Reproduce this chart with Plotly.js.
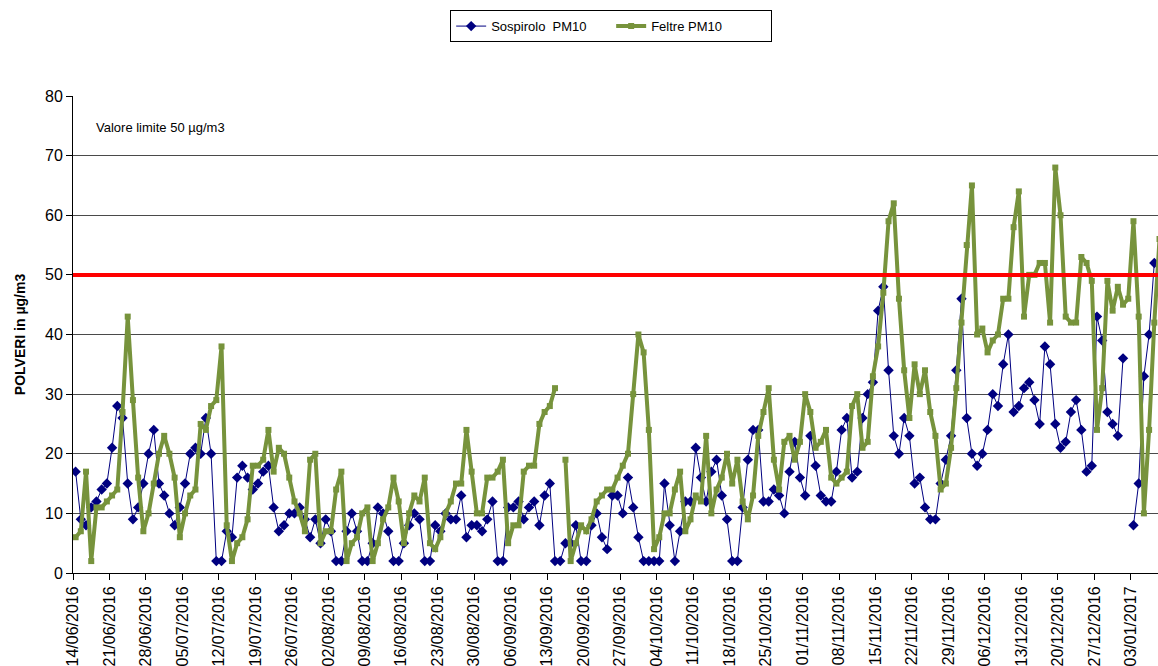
<!DOCTYPE html>
<html>
<head>
<meta charset="utf-8">
<script src="https://cdn.plot.ly/plotly-3.0.1.min.js"></script>
<style>
  html, body { margin: 0; padding: 0; background: #ffffff; }
  #chart { width: 1158px; height: 666px; }
</style>
</head>
<body>
<div id="chart"></div>
<script>
// First day of the daily series (one value per day)
const startDate = '2016-06-14';

// Sospirolo PM10 (µg/m3), daily from 14/06/2016
const sospirolo = [
  17, 9, 8, 11, 12, 14, 15, 21, 28, 26, 15, 9, 11, 15, 20, 24, 15, 13, 10, 8,
  11, 15, 20, 21, 20, 26, 20, 2, 2, 7, 6, 16, 18, 16, 14, 15, 17, 18, 11, 7,
  8, 10, 10, 11, 9, 6, 9, 5, 9, 7, 2, 2, 7, 10, 7, 2, 2, 5, 11, 10,
  7, 2, 2, 5, 8, 10, 9, 2, 2, 8, 7, 10, 9, 9, 13, 6, 8, 8, 7, 9,
  12, 2, 2, 11, 11, 12, 9, 11, 12, 8, 13, 15, 2, 2, 5, 5, 8, 2, 2, 8,
  10, 6, 4, 13, 13, 10, 16, 11, 6, 2, 2, 2, 2, 15, 8, 2, 7, 12, 12, 21,
  16, 12, 17, 19, 13, 9, 2, 2, 11, 19, 24, 24, 12, 12, 14, 13, 10, 17, 22, 16,
  13, 23, 18, 13, 12, 12, 17, 24, 26, 16, 17, 26, 30, 32, 44, 48, 34, 23, 20, 26,
  23, 15, 16, 11, 9, 9, 15, 19, 23, 34, 46, 26, 20, 18, 20, 24, 30, 28, 35, 40,
  27, 28, 31, 32, 29, 25, 38, 35, 25, 21, 22, 27, 29, 24, 17, 18, 43, 39, 27, 25,
  23, 36, null, 8, 15, 33, 40, 52, null
];

// Feltre PM10 (µg/m3), daily from 14/06/2016
const feltre = [
  6, 7, 17, 2, 11, 11, 12, 13, 14, 27, 43, 29, 16, 7, 10, 15, 20, 23, 20, 16,
  6, 10, 13, 14, 25, 24, 28, 29, 38, 8, 2, 5, 6, 9, 18, 18, 19, 24, 17, 21,
  20, 16, 12, 10, 7, 19, 20, 5, 7, 7, 14, 17, 2, 5, 6, 10, 11, 2, 5, 9,
  11, 16, 12, 5, 10, 13, 12, 16, 5, 4, 6, 10, 12, 15, 15, 24, 17, 10, 10, 16,
  16, 17, 19, 5, 8, 8, 17, 18, 18, 25, 27, 28, 31, null, 19, 2, 5, 8, 7, 9,
  12, 13, 14, 14, 16, 18, 20, 30, 40, 37, 24, 4, 6, 10, 10, 14, 17, 7, 9, 13,
  12, 23, 10, 14, 16, 20, 15, 19, 12, 9, 13, 23, 27, 31, 19, 14, 22, 23, 19, 22,
  30, 27, 21, 22, 24, 16, 15, 16, 17, 28, 30, 21, 22, 33, 38, 47, 59, 62, 46, 34,
  26, 35, 30, 34, 27, 23, 14, 15, 21, 31, 42, 55, 65, 40, 41, 37, 39, 40, 46, 46,
  58, 64, 43, 50, 50, 52, 52, 42, 68, 60, 43, 42, 42, 53, 52, 49, 24, 31, 49, 44,
  48, 45, 46, 59, 43, 10, 24, 42, 56
];

// Weekly tick labels on the date axis
const tickDates = [
  '2016-06-14','2016-06-21','2016-06-28','2016-07-05','2016-07-12','2016-07-19',
  '2016-07-26','2016-08-02','2016-08-09','2016-08-16','2016-08-23','2016-08-30',
  '2016-09-06','2016-09-13','2016-09-20','2016-09-27','2016-10-04','2016-10-11',
  '2016-10-18','2016-10-25','2016-11-01','2016-11-08','2016-11-15','2016-11-22',
  '2016-11-29','2016-12-06','2016-12-13','2016-12-20','2016-12-27','2017-01-03'
];
const tickLabels = [
  '14/06/2016','21/06/2016','28/06/2016','05/07/2016','12/07/2016','19/07/2016',
  '26/07/2016','02/08/2016','09/08/2016','16/08/2016','23/08/2016','30/08/2016',
  '06/09/2016','13/09/2016','20/09/2016','27/09/2016','04/10/2016','11/10/2016',
  '18/10/2016','25/10/2016','01/11/2016','08/11/2016','15/11/2016','22/11/2016',
  '29/11/2016','06/12/2016','13/12/2016','20/12/2016','27/12/2016','03/01/2017'
];

const limitValue = 50;
const limitText = 'Valore limite 50 µg/m3';

function dayList(start, n) {
  const out = [];
  const t0 = Date.parse(start + 'T00:00:00Z');
  for (let i = 0; i < n; i++) {
    out.push(new Date(t0 + i * 86400000).toISOString().slice(0, 10));
  }
  return out;
}
const days = dayList(startDate, Math.max(sospirolo.length, feltre.length));

const FONT = 'Liberation Sans, Arial, sans-serif';

const traces = [
  {
    type: 'scatter', mode: 'lines+markers', name: 'Sospirolo  PM10',
    x: days, y: sospirolo,
    xperiod: 86400000, xperiodalignment: 'middle',
    line: { color: '#000080', width: 1 },
    marker: { symbol: 'diamond', size: 8, color: '#000080' },
    connectgaps: false
  },
  {
    type: 'scatter', mode: 'lines+markers', name: 'Feltre PM10',
    x: days, y: feltre,
    xperiod: 86400000, xperiodalignment: 'middle',
    line: { color: '#77933C', width: 4 },
    marker: { symbol: 'square', size: 6, color: '#77933C' },
    connectgaps: false
  }
];

const layout = {
  width: 1158, height: 666,
  margin: { l: 73, r: 0, t: 96, b: 93, pad: 0 },
  paper_bgcolor: '#ffffff', plot_bgcolor: '#ffffff',
  font: { family: FONT, color: '#000000', size: 13 },
  showlegend: true,
  legend: {
    orientation: 'h', x: 0.496, xanchor: 'center', y: 1.18, yanchor: 'top',
    bordercolor: '#000000', borderwidth: 1, bgcolor: '#ffffff',
    font: { family: FONT, size: 13, color: '#000000' },
    entrywidth: 115, entrywidthmode: 'pixels', tracegroupgap: 0
  },
  xaxis: {
    type: 'date',
    range: ['2016-06-14', '2017-01-08 05:00'],
    tickmode: 'array', tickvals: tickDates, ticktext: tickLabels,
    tickangle: -90,
    tickfont: { family: FONT, size: 16, color: '#000000' },
    ticks: 'outside', ticklen: 6, tickcolor: '#000000',
    showline: true, linecolor: '#000000', linewidth: 1,
    showgrid: false, zeroline: false, fixedrange: true
  },
  yaxis: {
    range: [0, 80], dtick: 10, tick0: 0,
    tickfont: { family: FONT, size: 16, color: '#000000' },
    ticks: 'outside', ticklen: 6, tickcolor: '#000000',
    showline: true, linecolor: '#000000', linewidth: 1,
    showgrid: true, gridcolor: '#4a4a4a', gridwidth: 1,
    zeroline: false, fixedrange: true,
    title: { text: '<b>POLVERI in µg/m3</b>', font: { family: FONT, size: 14, color: '#000000' }, standoff: 16 }
  },
  shapes: [
    {
      type: 'line', xref: 'paper', x0: 0, x1: 1, yref: 'y', y0: limitValue, y1: limitValue,
      line: { color: '#ff0000', width: 4 }
    }
  ],
  annotations: [
    {
      text: limitText, xref: 'paper', yref: 'paper', x: 0.019, y: 0.935,
      xanchor: 'left', yanchor: 'middle', showarrow: false,
      font: { family: FONT, size: 13, color: '#000000' }
    }
  ]
};

Plotly.newPlot('chart', traces, layout, { displayModeBar: false, staticPlot: true });
</script>
</body>
</html>
